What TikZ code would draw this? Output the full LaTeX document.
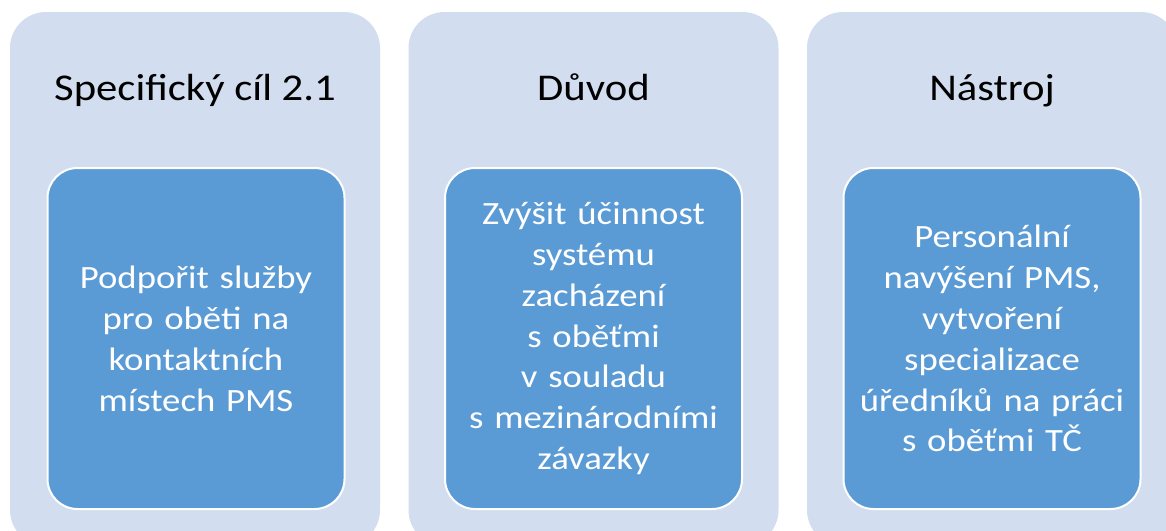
\documentclass[tikz,border=0pt]{standalone}
\usepackage{fontspec}
\setmainfont{Carlito}
\newfontfamily\wideinner{Carlito}[FakeStretch=1.13]
\newfontfamily\widetitle{Carlito}[FakeStretch=1.13]
\definecolor{outerfill}{RGB}{210,222,239}
\definecolor{innerfill}{RGB}{91,155,213}
\begin{document}
\begin{tikzpicture}[x=1pt,y=-1pt,
  outerbox/.style={draw=none,fill=outerfill,rounded corners=36pt,minimum width=370pt,minimum height=534pt,inner sep=0pt},
  innerbox/.style={draw=white,line width=2pt,fill=innerfill,rounded corners=30pt,minimum width=297pt,minimum height=341pt,inner sep=0pt,
     text=white,align=center,text width=295pt,font=\wideinner\fontsize{32.5}{40.9}\selectfont},
  titletext/.style={anchor=base,text=black,inner sep=0pt,font=\widetitle\fontsize{37.8}{45}\selectfont}]
\useasboundingbox (0,0) rectangle (1166,530);
\clip (0,0) rectangle (1166,530);
\node[outerbox] (o1) at (195,279) {};
\node[outerbox] (o2) at (593.5,279) {};
\node[outerbox] (o3) at (992,279) {};
\node[titletext] (t1) at (195,100.5) {Specifický cíl 2.1};
\node[titletext] (t2) at (593.5,100.5) {Důvod};
\node[titletext] (t3) at (992,100.5) {Nástroj};
\node[innerbox] (i1) at (196,338.5) {Podpořit služby\\pro oběti na\\kontaktních\\místech PMS};
\node[innerbox] (i2) at (593.5,338.5) {Zvýšit účinnost\\systému\\zacházení\\s~oběťmi\\v~souladu\\s~mezinárodními\\závazky};
\node[innerbox] (i3) at (992,338.5) {Personální\\navýšení PMS,\\vytvoření\\specializace\\úředníků na práci\\s~oběťmi TČ};
\end{tikzpicture}
\end{document}
